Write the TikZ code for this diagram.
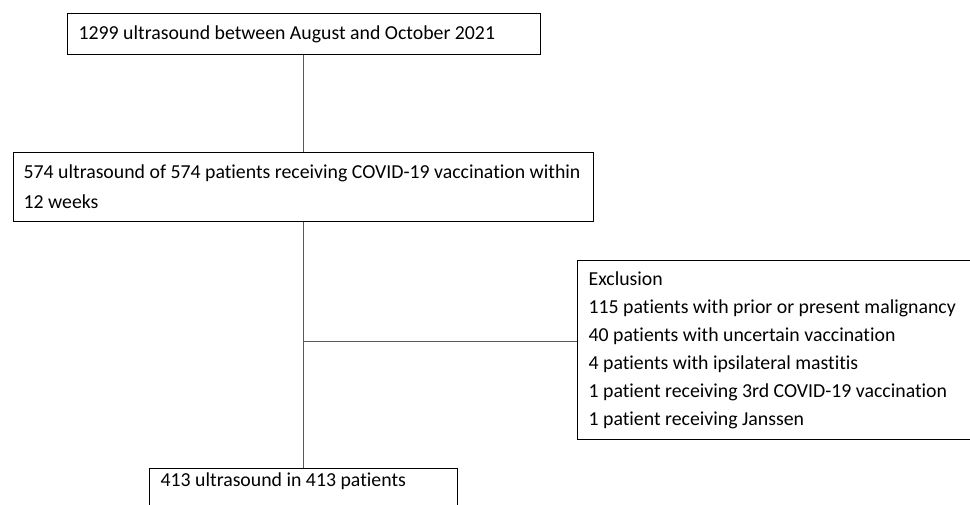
\documentclass[tikz,border=0pt]{standalone}
\usepackage{fontspec}
\setmainfont{Carlito}[Ligatures=NoCommon]
\usetikzlibrary{positioning}
\begin{document}
\begin{tikzpicture}[
      x=1pt, y=-1pt,
      font=\fontsize{19.8}{28}\selectfont,
      box/.style={draw, line width=1.2pt, anchor=north west, inner xsep=11pt, inner ysep=0pt, align=flush left},
      link/.style={draw=black!65, line width=1pt}
      ]
      \useasboundingbox (0,0) rectangle (970,504);
      % boxes
      \node[box, text width=451pt, minimum height=41pt] (scans) at (67,13)
        {1299 ultrasound between August and October 2021};
      \node[box, text width=560pt, inner xsep=10pt, minimum height=69pt, font=\fontsize{19.8}{30}\selectfont] (vacc) at (13,152)
        {574 ultrasound of 574 patients receiving COVID-19 vaccination within\\12 weeks};
      \node[box, text width=373pt, minimum height=179pt] (excl) at (577,260)
        {Exclusion\\
         115 patients with prior or present malignancy\\
         40 patients with uncertain vaccination\\
         4 patients with ipsilateral mastitis\\
         1 patient receiving 3rd COVID-19 vaccination\\
         1 patient receiving Janssen};
      \node[box, text width=286pt, text height=14pt, text depth=30pt, inner ysep=4pt] (final) at (149,468)
        {413 ultrasound in 413 patients};
      % connectors
      \coordinate (split) at (303,341);
      \draw[link] (vacc.north |- scans.south) -- (vacc.north);
      \draw[link] (vacc.south) -- (final.north);
      \draw[link] (split) -- (split -| excl.west);
\end{tikzpicture}
\end{document}
